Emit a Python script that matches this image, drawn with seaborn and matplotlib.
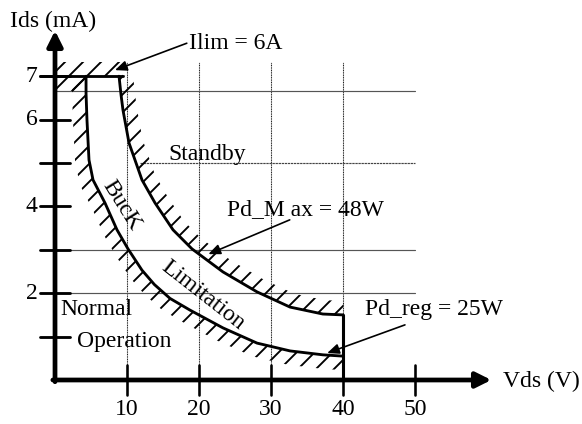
import numpy as np
import pandas as pd
import matplotlib
matplotlib.use("Agg")
import matplotlib.pyplot as plt
import seaborn as sns
from matplotlib.patches import Polygon
from matplotlib.collections import LineCollection

# curves (Vds in V, Ids in mA)
inner_vds = [4.31, 4.31, 4.44, 4.72, 5.28, 6.94, 8.61, 10.14, 12.08, 13.8, 15.97, 18.75, 23.33, 28.06, 32.64, 37.2, 40.0]
inner_ids = [7.0, 6.6, 5.99, 5.07, 4.61, 4.08, 3.46, 3.02, 2.53, 2.2, 1.88, 1.61, 1.20, 0.85, 0.67, 0.58, 0.55]
outer_vds = [8.89, 9.17, 9.44, 10.28, 12.08, 13.89, 16.39, 19.03, 23.33, 28.06, 32.64, 37.2, 40.0]
outer_ids = [7.0, 6.57, 6.22, 5.46, 4.61, 4.08, 3.46, 3.02, 2.49, 2.03, 1.68, 1.52, 1.50]

x_ticks = [10, 20, 30, 40, 50]
y_ticks = [1, 2, 3, 4, 5, 6, 7]
y_labels = {7: "7", 6: "6", 4: "4", 2: "2"}
v_grid = [10, 20, 30, 40]

sns.set_theme(style="white")
plt.rcParams["font.family"] = ["Liberation Serif", "DejaVu Serif"]

DPI = 85
W, H = 582, 424
fig = plt.figure(figsize=(W / DPI, H / DPI), dpi=DPI)
ax = fig.add_axes([0, 0, 1, 1])
ax.set_xlim(-7.64, 73.19)
ax.set_ylim(-1.014, 8.756)
ax.axis("off")

FS = 20
ink = "black"


def offset_band(xs, ys, dist):
    # band along a curve, dist in pixels (positive = lower-left side)
    pts = ax.transData.transform(np.column_stack([xs, ys]))
    d = np.gradient(pts, axis=0)
    n = np.column_stack([d[:, 1], -d[:, 0]])
    n /= np.linalg.norm(n, axis=1, keepdims=True)
    off = pts + n * dist
    poly = np.vstack([pts, off[::-1]])
    return ax.transData.inverted().transform(poly)


def hatch_patch(xy, step=18):
    # "/" strokes every `step` pixels, clipped to the polygon
    clip = Polygon(xy, closed=True, facecolor="none", edgecolor="none", lw=0)
    ax.add_patch(clip)
    inv = ax.transData.inverted()
    segs = []
    for c in np.arange(-W - 3, W + H, step):
        p = inv.transform([[c, 0], [c + H + W, H + W]])
        segs.append(p)
    lc = LineCollection(segs, colors=ink, linewidths=1.6, zorder=2)
    lc.set_clip_path(clip)
    ax.add_collection(lc)


# grid
for v in v_grid:
    ax.plot([v, v], [0, 7.33], color="#222222", lw=0.9, ls=(0, (1, 0.6)), zorder=1)
ax.plot([0, 50], [6.66, 6.66], color="#555555", lw=1.0, zorder=1)
ax.plot([11.8, 50], [5, 5], color="#444444", lw=1.0, ls=(0, (2, 0.6)), zorder=1)
ax.plot([0, 50], [3, 3], color="#555555", lw=1.0, zorder=1)
ax.plot([0, 50], [2, 2], color="#555555", lw=1.0, zorder=1)

# hatched borders
hatch_patch([[0, 7.0], [9.5, 7.0], [9.5, 7.33], [0, 7.33]])
hatch_patch([[0, 6.66], [inner_vds[0], 6.66], [inner_vds[0], 7.0], [0, 7.0]])
hatch_patch(offset_band(inner_vds, inner_ids, 14))
hatch_patch(offset_band(outer_vds, outer_ids, -14))

# curves
curves = pd.concat([
    pd.DataFrame({"Vds": inner_vds, "Ids": inner_ids, "curve": "reg"}),
    pd.DataFrame({"Vds": outer_vds, "Ids": outer_ids, "curve": "max"}),
])
sns.lineplot(data=curves, x="Vds", y="Ids", units="curve", estimator=None,
             sort=False, color=ink, lw=2.4, ax=ax, zorder=4)
ax.plot([40, 40], [0, outer_ids[-1]], color=ink, lw=2.6, zorder=4)
ax.plot([-2.1, 9.4], [7, 7], color=ink, lw=2.4, zorder=4)

# axes with arrows
ax.annotate("", xy=(0, 8.05), xytext=(0, -0.04),
            arrowprops=dict(arrowstyle="-|>,head_length=0.9,head_width=0.45",
                            color=ink, lw=4, shrinkA=0, shrinkB=0), zorder=5)
ax.annotate("", xy=(60.6, 0), xytext=(-0.3, 0),
            arrowprops=dict(arrowstyle="-|>,head_length=0.9,head_width=0.45",
                            color=ink, lw=4, shrinkA=0, shrinkB=0), zorder=5)

for t in y_ticks:
    ax.plot([-2.1, 2.1], [t, t], color=ink, lw=2.4, zorder=5)
    if t in y_labels:
        ax.text(-2.4, t, y_labels[t], ha="right", va="center", fontsize=FS, color=ink)
for t in x_ticks:
    ax.plot([t, t], [-0.35, 0.35], color=ink, lw=2.2, zorder=5)
    ax.text(t, -0.81, str(t), ha="center", va="baseline", fontsize=FS, color=ink)

ax.text(-6.25, 8.13, "Ids (mA)", fontsize=FS, va="baseline", color=ink)
ax.text(62.2, -0.16, "Vds (V)", fontsize=FS, va="baseline", color=ink)
ax.text(15.7, 5.07, "Standby", fontsize=FS, va="baseline", color=ink)
ax.text(0.7, 1.50, "Normal", fontsize=FS, va="baseline", color=ink)
ax.text(3.1, 0.76, "Operation", fontsize=FS, va="baseline", color=ink)
ax.text(9.3, 4.03, "BucK", fontsize=FS, rotation=-58, ha="center", va="center",
        rotation_mode="anchor", color=ink)
ax.text(20.6, 1.96, "Limitation", fontsize=FS, rotation=-38, ha="center", va="center",
        rotation_mode="anchor", color=ink)

# annotations
arrow = dict(arrowstyle="-|>,head_length=0.7,head_width=0.3", color=ink, lw=1.4,
             shrinkA=0, shrinkB=0)
ax.text(18.6, 7.63, "Ilim = 6A", fontsize=FS, va="baseline", color=ink)
ax.annotate("", xy=(8.33, 7.14), xytext=(18.3, 7.76), arrowprops=arrow, zorder=6)
ax.text(23.9, 3.80, "Pd_M ax = 48W", fontsize=FS, va="baseline", color=ink)
ax.annotate("", xy=(21.3, 2.9), xytext=(32.6, 3.69), arrowprops=arrow, zorder=6)
ax.text(43.1, 1.50, "Pd_reg = 25W", fontsize=FS, va="baseline", color=ink)
ax.annotate("", xy=(37.8, 0.62), xytext=(48.6, 1.27), arrowprops=arrow, zorder=6)

fig.savefig("out.png", dpi=DPI, facecolor="white")
